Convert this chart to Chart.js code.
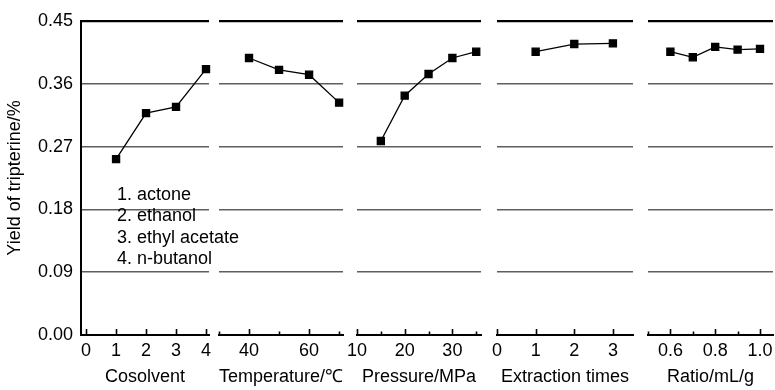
<!DOCTYPE html>
<html>
<head>
<meta charset="utf-8">
<script src="https://cdn.jsdelivr.net/npm/chart.js@4"></script>
<style>
  html, body { margin: 0; padding: 0; background: #fff; overflow: hidden; }
  #wrap { position: relative; width: 775px; height: 390px; }
  #wrap canvas { position: absolute; top: 0; }
</style>
</head>
<body>
<div id="wrap"></div>
<script>
const yTicks = [0, 0.09, 0.18, 0.27, 0.36, 0.45]

const cosolventX = [1, 2, 3, 4]
const cosolventY = [0.252, 0.318, 0.327, 0.381]
const cosolventTicks = [0, 1, 2, 3, 4]
const cosolventLabels = [0, 1, 2, 3, 4]
const cosolventNames = ['1. actone', '2. ethanol', '3. ethyl acetate', '4. n-butanol']

const tempX = [40, 50, 60, 70]
const tempY = [0.397, 0.380, 0.373, 0.333]
const tempTicks = [30, 40, 50, 60, 70]
const tempLabels = [40, 60]

const pressureX = [15, 20, 25, 30, 35]
const pressureY = [0.278, 0.343, 0.374, 0.397, 0.406]
const pressureTicks = [10, 15, 20, 25, 30, 35]
const pressureLabels = [10, 20, 30]

const timesX = [1, 2, 3]
const timesY = [0.406, 0.417, 0.418]
const timesTicks = [0, 1, 2, 3]
const timesLabels = [0, 1, 2, 3]

const ratioX = [0.6, 0.7, 0.8, 0.9, 1.0]
const ratioY = [0.406, 0.398, 0.413, 0.409, 0.410]
const ratioTicks = [0.5, 0.6, 0.7, 0.8, 0.9, 1.0]
const ratioLabels = [0.6, 0.8, 1.0]

const FONT = { family: '"Liberation Sans", Arial, sans-serif', size: 18 }
const PAD = 20

const panels = [
  { title: 'Cosolvent', xs: cosolventX, ys: cosolventY, ticks: cosolventTicks, labels: cosolventLabels,
    min: -0.17, max: 4.1, left: 81, right: 209, digits: 0, legend: cosolventNames },
  { title: 'Temperature/℃', xs: tempX, ys: tempY, ticks: tempTicks, labels: tempLabels,
    min: 30, max: 71.3, left: 219, right: 343, digits: 0 },
  { title: 'Pressure/MPa', xs: pressureX, ys: pressureY, ticks: pressureTicks, labels: pressureLabels,
    min: 10, max: 36, left: 357, right: 481, digits: 0 },
  { title: 'Extraction times', xs: timesX, ys: timesY, ticks: timesTicks, labels: timesLabels,
    min: 0, max: 3.52, left: 497, right: 633, digits: 0 },
  { title: 'Ratio/mL/g', xs: ratioX, ys: ratioY, ticks: ratioTicks, labels: ratioLabels,
    min: 0.5, max: 1.058, left: 648, right: 773, digits: 1 }
]

const near = (a, b) => Math.abs(a - b) < 1e-6

// tick marks point up into the plot, labelled ones are longer
const tickMarks = {
  id: 'tickMarks',
  afterDraw(chart, args, opts) {
    const { ctx, chartArea } = chart
    const x = chart.scales.x
    ctx.save()
    ctx.strokeStyle = '#000'
    ctx.lineWidth = 1.6
    opts.ticks.forEach(v => {
      const px = Math.round(x.getPixelForValue(v)) + 0.5
      const major = opts.labels.some(l => near(l, v))
      ctx.beginPath()
      ctx.moveTo(px, chartArea.bottom)
      ctx.lineTo(px, chartArea.bottom - (major ? 6 : 3.5))
      ctx.stroke()
    })
    if (opts.legend) {
      ctx.fillStyle = '#000'
      ctx.font = `${FONT.size}px ${FONT.family}`
      ctx.textBaseline = 'middle'
      opts.legend.forEach((t, i) => ctx.fillText(t, 117, 195 + i * 21.5))
    }
    ctx.restore()
  }
}

const wrap = document.getElementById('wrap')

panels.forEach((p, i) => {
  const first = i === 0
  const canvas = document.createElement('canvas')
  const cLeft = first ? 0 : p.left - PAD
  const rightPad = first ? 55 : PAD
  const cWidth = (p.right + rightPad) - cLeft
  canvas.style.left = cLeft + 'px'
  canvas.style.width = cWidth + 'px'
  canvas.style.height = '390px'
  canvas.width = cWidth
  canvas.height = 390
  wrap.appendChild(canvas)

  new Chart(canvas.getContext('2d'), {
    type: 'line',
    data: {
      datasets: [{
        data: p.xs.map((x, k) => ({ x: x, y: p.ys[k] })),
        borderColor: '#000',
        backgroundColor: '#000',
        borderWidth: 1.3,
        pointStyle: 'rect',
        pointRadius: 5,
        pointHoverRadius: 5,
        tension: 0,
        clip: false
      }]
    },
    options: {
      responsive: false,
      animation: false,
      events: [],
      layout: { padding: { top: 21, bottom: 0, left: first ? 0 : PAD, right: rightPad } },
      plugins: {
        legend: { display: false },
        tooltip: { enabled: false },
        tickMarks: { ticks: p.ticks, labels: p.labels, legend: p.legend }
      },
      scales: {
        x: {
          type: 'linear',
          min: p.min,
          max: p.max,
          afterBuildTicks: s => { s.ticks = p.ticks.map(v => ({ value: v })) },
          afterFit: s => { s.height = 55 },
          ticks: {
            autoSkip: false,
            maxRotation: 0,
            padding: 5,
            color: '#000',
            font: FONT,
            callback: v => p.labels.some(l => near(l, v)) ? v.toFixed(p.digits) : ''
          },
          grid: { drawOnChartArea: false, drawTicks: false },
          border: { display: true, color: '#000', width: 2 },
          title: { display: true, text: p.title, color: '#000', font: FONT, padding: { top: 0, bottom: 2 } }
        },
        y: {
          min: 0,
          max: 0.45,
          afterBuildTicks: s => { s.ticks = yTicks.map(v => ({ value: v })) },
          afterFit: s => { s.width = first ? 81 : 0 },
          ticks: {
            display: first,
            padding: 8,
            color: '#000',
            font: FONT,
            callback: v => v.toFixed(2)
          },
          grid: {
            drawTicks: false,
            lineWidth: ctx => ctx.tick && near(ctx.tick.value, 0.45) ? 2.2 : 1.6,
            color: ctx => {
              if (!ctx.tick) return '#5e5e5e'
              if (near(ctx.tick.value, 0)) return 'rgba(0,0,0,0)'
              return near(ctx.tick.value, 0.45) ? '#000' : '#5e5e5e'
            }
          },
          border: { display: first, color: '#000', width: 2 },
          title: { display: first, text: 'Yield of tripterine/%', color: '#000', font: FONT, padding: { top: 4, bottom: 0 } }
        }
      }
    },
    plugins: [tickMarks]
  })
})
</script>
</body>
</html>
